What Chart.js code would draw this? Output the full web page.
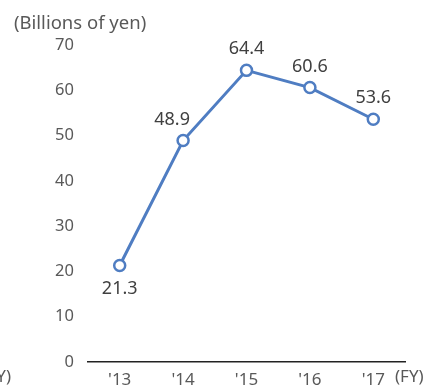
<!DOCTYPE html>
<html>
<head>
<meta charset="utf-8">
<script src="https://cdn.jsdelivr.net/npm/chart.js@4"></script>
<style>
  html, body { margin: 0; padding: 0; background: #fff; }
  #salesChart { display: block; }
</style>
</head>
<body>
<canvas id="salesChart" width="429" height="385"></canvas>
<script>
// Fiscal years and values (billions of yen)
const years = ["'13", "'14", "'15", "'16", "'17"];
const values = [21.3, 48.9, 64.4, 60.6, 53.6];
const yTicks = [0, 10, 20, 30, 40, 50, 60, 70];

const lineBlue = '#4f7dc2';
const textGray = '#595959';
const fontFamily = '"Noto Sans", "Open Sans", sans-serif';

// Value labels above each point (first one sits below the point)
const valueLabels = {
    id: 'valueLabels',
    afterDatasetsDraw(chart) {
        const { ctx } = chart;
        const meta = chart.getDatasetMeta(0);
        ctx.save();
        ctx.font = '18px ' + fontFamily;
        ctx.fillStyle = '#404040';
        ctx.textAlign = 'center';
        ctx.textBaseline = 'middle';
        meta.data.forEach((pt, i) => {
            const below = i === 0;
            const dx = i === 1 ? -11 : 0;
            const dy = below ? 23 : -21;
            ctx.fillText(values[i].toFixed(1), pt.x + dx, pt.y + dy);
        });
        ctx.restore();
    }
};

// Unit caption and FY markers
const captions = {
    id: 'captions',
    afterDraw(chart) {
        const { ctx } = chart;
        ctx.save();
        ctx.font = '18.5px ' + fontFamily;
        ctx.fillStyle = textGray;
        ctx.textBaseline = 'middle';
        ctx.textAlign = 'left';
        ctx.fillText('(Billions of yen)', 14, 24);
        ctx.font = '17px ' + fontFamily;
        ctx.fillText('(FY)', 395, 377);
        ctx.textAlign = 'right';
        ctx.fillText('(FY)', 11, 377);
        ctx.restore();
    }
};

new Chart(document.getElementById('salesChart'), {
    type: 'line',
    data: {
        labels: years,
        datasets: [{
            data: values,
            borderColor: lineBlue,
            borderWidth: 3,
            pointRadius: 5.5,
            pointBorderWidth: 2.5,
            pointBackgroundColor: '#ffffff',
            pointBorderColor: lineBlue,
            tension: 0
        }]
    },
    options: {
        responsive: false,
        animation: false,
        layout: { padding: { top: 45, right: 24, left: 0, bottom: 0 } },
        plugins: {
            legend: { display: false },
            tooltip: { enabled: false }
        },
        scales: {
            x: {
                offset: true,
                grid: { display: false },
                border: { display: true, color: '#222', width: 1.5 },
                ticks: { color: textGray, font: { family: fontFamily, size: 17 }, padding: 0 },
                afterFit(scale) { scale.height = 23; }
            },
            y: {
                min: 0,
                max: 70,
                afterBuildTicks(scale) { scale.ticks = yTicks.map(v => ({ value: v })); },
                grid: { display: false },
                border: { display: false },
                ticks: { color: textGray, font: { family: fontFamily, size: 16.5 }, padding: 6 },
                afterFit(scale) { scale.width = 88; }
            }
        }
    },
    plugins: [valueLabels, captions]
});
</script>
</body>
</html>
